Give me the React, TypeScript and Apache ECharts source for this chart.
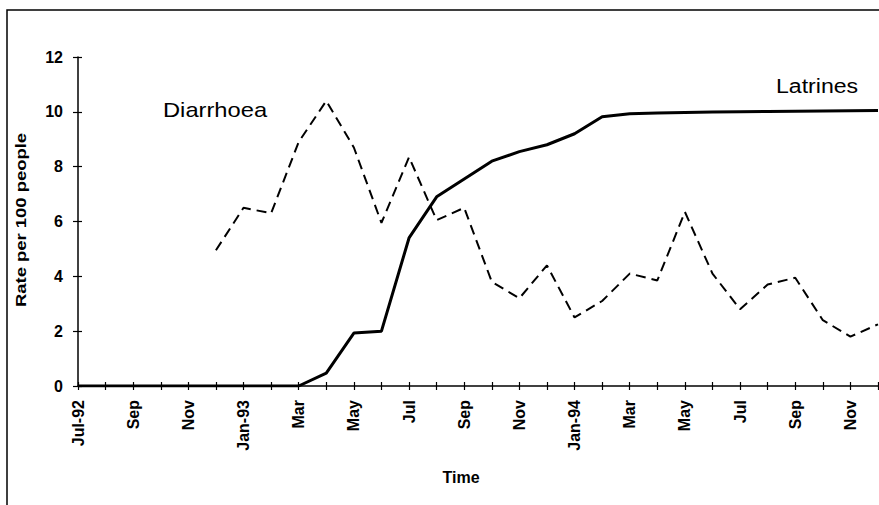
import React, { useEffect, useRef } from "react";
import * as echarts from "echarts";

const months = [
  "Jul-92", "Aug-92", "Sep-92", "Oct-92", "Nov-92", "Dec-92",
  "Jan-93", "Feb-93", "Mar-93", "Apr-93", "May-93", "Jun-93",
  "Jul-93", "Aug-93", "Sep-93", "Oct-93", "Nov-93", "Dec-93",
  "Jan-94", "Feb-94", "Mar-94", "Apr-94", "May-94", "Jun-94",
  "Jul-94", "Aug-94", "Sep-94", "Oct-94", "Nov-94", "Dec-94",
];
const tickLabels = [
  "Jul-92", "Sep", "Nov", "Jan-93", "Mar", "May", "Jul", "Sep",
  "Nov", "Jan-94", "Mar", "May", "Jul", "Sep", "Nov",
];
const latrines = [
  0, 0, 0, 0, 0, 0, 0, 0, 0, 0.47, 1.93, 2.0, 5.4, 6.9, 7.55, 8.2, 8.55, 8.8,
  9.2, 9.82, 9.93, 9.96, 9.98, 9.99, 10.0, 10.01, 10.02, 10.03, 10.04, 10.05,
];
const diarrhoea = [
  null, null, null, null, null, 4.95, 6.5, 6.3, 8.9, 10.4, 8.7, 5.95, 8.35,
  6.05, 6.5, 3.8, 3.2, 4.4, 2.5, 3.1, 4.1, 3.85, 6.35, 4.1, 2.8, 3.7, 3.95,
  2.4, 1.8, 2.25,
];
const yTicks = { min: 0, max: 12, interval: 2 };

export default function App() {
  const ref = useRef<HTMLDivElement>(null);
  useEffect(() => {
    const chart = echarts.init(ref.current!, null, { renderer: "svg" });
    const font = "'Liberation Sans', Arial, sans-serif";
    const axisLine = { lineStyle: { color: "#000", width: 1.5 } };
    chart.setOption({
      animation: false,
      backgroundColor: "#fff",
      grid: { left: 78, right: 1, top: 57, bottom: 119, containLabel: false },
      xAxis: [
        {
          type: "category",
          data: months,
          boundaryGap: false,
          axisLine,
          axisTick: { show: true, inside: false, length: 4, interval: 0, lineStyle: { color: "#000", width: 1.2 } },
          axisLabel: {
            interval: 1,
            rotate: 90,
            margin: 14,
            fontFamily: font,
            fontWeight: "bold",
            fontSize: 16,
            color: "#000",
            formatter: (_v: string, i: number) => tickLabels[i / 2] ?? "",
          },
          splitLine: { show: false },
        },
        {
          type: "category",
          data: months,
          boundaryGap: false,
          position: "bottom",
          axisLine: { show: false },
          axisTick: { show: true, inside: true, length: 4, interval: 0, lineStyle: { color: "#000", width: 1.2 } },
          axisLabel: { show: false },
          splitLine: { show: false },
        },
      ],
      yAxis: [
        {
          type: "value",
          ...yTicks,
          axisLine: { show: true, ...axisLine },
          axisTick: { show: true, inside: false, length: 5, lineStyle: { color: "#000", width: 1.2 } },
          axisLabel: {
            margin: 15,
            fontFamily: font,
            fontWeight: "bold",
            fontSize: 16,
            color: "#000",
          },
          splitLine: { show: false },
        },
        {
          type: "value",
          ...yTicks,
          position: "left",
          axisLine: { show: false },
          axisTick: { show: true, inside: true, length: 4, lineStyle: { color: "#000", width: 1.2 } },
          axisLabel: { show: false },
          splitLine: { show: false },
        },
      ],
      series: [
        {
          name: "Latrines",
          type: "line",
          data: latrines,
          symbol: "none",
          lineStyle: { color: "#000", width: 3 },
          z: 3,
        },
        {
          name: "Diarrhoea",
          type: "line",
          data: diarrhoea,
          symbol: "none",
          connectNulls: false,
          lineStyle: { color: "#000", width: 2, type: [10, 6] },
          z: 2,
        },
      ],
      graphic: [
        {
          type: "rect",
          shape: { x: 7, y: 10, width: 900, height: 600 },
          style: { fill: "none", stroke: "#000", lineWidth: 1.5 },
          silent: true,
        },
        {
          type: "text",
          x: 163,
          y: 110,
          scaleX: 1.13,
          style: { text: "Diarrhoea", font: `21px ${font}`, fill: "#000", textAlign: "left", textVerticalAlign: "middle" },
        },
        {
          type: "text",
          x: 776,
          y: 86,
          scaleX: 1.1,
          style: { text: "Latrines", font: `21px ${font}`, fill: "#000", textAlign: "left", textVerticalAlign: "middle" },
        },
        {
          type: "text",
          x: 461,
          y: 477,
          style: { text: "Time", font: `bold 16px ${font}`, fill: "#000", textAlign: "center", textVerticalAlign: "middle" },
        },
        {
          type: "text",
          x: 21,
          y: 220,
          rotation: Math.PI / 2,
          scaleX: 1.23,
          style: { text: "Rate per 100 people", font: `bold 15px ${font}`, fill: "#000", textAlign: "center", textVerticalAlign: "middle" },
        },
      ],
    });
    return () => chart.dispose();
  }, []);
  return (
    <div
      ref={ref}
      style={{ position: "fixed", left: 0, top: 0, width: 879, height: 505, background: "#fff" }}
    />
  );
}
